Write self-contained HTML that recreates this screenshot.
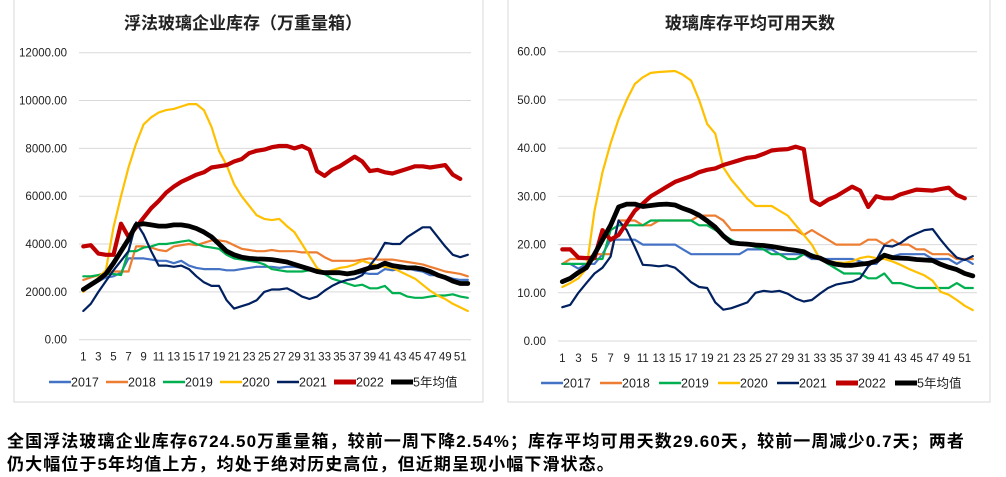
<!DOCTYPE html>
<html><head><meta charset="utf-8">
<style>
body{margin:0;width:1006px;height:477px;background:#fff;overflow:hidden;font-family:"Liberation Sans","Noto Sans CJK SC",sans-serif;}
.note{position:absolute;left:7px;font-size:17px;font-weight:bold;color:#000;font-family:"Liberation Sans","Noto Sans CJK SC",sans-serif;white-space:nowrap;letter-spacing:1.1px}
</style></head>
<body>
<svg id="svg" width="1006" height="477" style="position:absolute;left:0;top:0"></svg>
<div class="note" style="top:427px">全国浮法玻璃企业库存6724.50万重量箱，较前一周下降2.54%；库存平均可用天数29.60天，较前一周减少0.7天；两者</div>
<div class="note" style="top:450px">仍大幅位于5年均值上方，均处于绝对历史高位，但近期呈现小幅下滑状态。</div>
<script>
// Left chart: inventory (万重量箱)
const inv2017=[2100,2250,2450,2600,2650,2800,3400,3400,3400,3350,3300,3300,3200,3300,3100,3000,2950,2950,2950,2900,2900,2950,3000,3050,3050,3050,3000,3050,3050,3000,2950,2900,2800,2750,2750,2750,2750,2800,2750,2750,2950,2900,2950,3000,2900,2850,2700,2700,2650,2550,2500,2500];
const inv2018=[2500,2600,2700,2800,2850,2850,2850,3900,3900,3850,3750,3700,3900,3950,4000,3950,4050,4150,4150,4100,3950,3800,3750,3700,3700,3750,3700,3700,3700,3650,3650,3650,3450,3300,3300,3300,3300,3350,3400,3350,3350,3350,3300,3250,3200,3150,3050,2950,2850,2800,2750,2650];
const inv2019=[2650,2650,2700,2750,2750,2700,3700,3700,3850,3900,4000,4000,4050,4100,4150,4000,3900,3850,3800,3550,3400,3350,3300,3250,3150,2950,2900,2850,2850,2850,2900,2850,2750,2550,2450,2350,2250,2300,2150,2150,2250,1950,1950,1800,1750,1750,1800,1850,1850,1900,1800,1750];
const inv2020=[2000,2300,2600,2900,4700,6000,7200,8200,9000,9300,9500,9600,9650,9750,9850,9850,9600,8900,7900,7300,6500,6000,5600,5200,5050,5000,5050,4750,4500,4000,3500,3000,2800,2900,3000,3050,3150,3300,3200,3100,3050,3000,2850,2700,2550,2300,2050,1850,1700,1500,1350,1200];
const inv2021=[1200,1500,2000,2450,2900,3300,3700,4900,4400,3700,3100,3100,3050,3100,2950,2650,2400,2250,2250,1650,1300,1400,1500,1650,2000,2100,2100,2150,2000,1800,1700,1800,2050,2250,2400,2500,2550,2700,3100,3500,4050,4000,4000,4300,4500,4700,4700,4300,3900,3550,3450,3550];
const inv2022=[3900,3950,3600,3550,3550,4850,4300,4700,5100,5500,5800,6150,6400,6600,6750,6900,7000,7200,7250,7300,7450,7550,7800,7900,7950,8050,8100,8100,8000,8100,7950,7050,6850,7100,7250,7450,7650,7450,7050,7100,7000,6950,7050,7150,7250,7250,7200,7250,7300,6900,6724];
const invAvg=[2100,2300,2500,2750,3200,3700,4200,4800,4850,4800,4750,4750,4800,4800,4750,4650,4500,4300,4000,3700,3550,3450,3400,3380,3370,3350,3300,3250,3150,3050,2950,2850,2800,2800,2800,2750,2800,2900,3000,3050,3200,3100,3050,3000,3000,2950,2850,2700,2600,2450,2350,2350];
const invTicks=[0,2000,4000,6000,8000,10000,12000];
// Right chart: available days
const day2017=[16,16,15,16,16,18,21,21,21,21,20,20,20,20,20,19,18,18,18,18,18,18,18,19,19,19,19,18,18,18,18,17,17,17,17,17,17,16.5,16,16,18,17.5,18,18,18,18,17,17,17,16,17,16];
const day2018=[16,17,17,17,18,18,18,25,25,25,24,24,25,25,25,25,25,26,26,26,25,23,23,23,23,23,23,23,23,23,22,23,22,21,20,20,20,20,21,21,20,21,20,20,19,19,18,18,18,17,17,17];
const day2019=[16,16,16,16,17,17,23,24,24,24,24,25,25,25,25,25,25,24,24,23,22,21,20,20,19.5,19,18,18,17,17,18,18,17,16,15,14,14,14,13,13,14,12,12,11.5,11,11,11,11,11,12,11,11];
const day2020=[11.2,12,13,15,27,35,41,46,50,53.3,54.7,55.6,55.8,55.9,56,55.2,54,50,45,43,36,33.5,31.5,29.5,28,28,28,27,26,24,22,20,17,16.5,16.3,16.2,16.5,17.2,17.5,17.2,17,16.5,15.8,15,14.3,13.6,12.5,10.2,9.6,8.5,7.3,6.4];
const day2021=[7,7.5,10,12,14,15.2,17.5,25,23,19.5,15.8,15.7,15.5,15.7,15.2,13.8,12.2,11.2,11,8,6.5,6.8,7.4,8,10,10.4,10.2,10.4,9.8,8.8,8.2,8.5,9.8,11,11.7,12,12.3,13,15.5,16.8,19.8,19.6,20.3,21.5,22.3,23,23.2,21,19,17.3,16.8,17.6];
const day2022=[19,19,17.3,17.2,17.2,23,21,22,24.5,27,28.5,30,31,32,33,33.6,34.2,35,35.5,35.8,36.5,37,37.5,38,38.2,38.8,39.5,39.7,39.8,40.3,39.8,29.2,28.2,29.3,30,31,32,31.2,27.8,30,29.6,29.6,30.4,30.9,31.4,31.3,31.2,31.5,31.8,30.3,29.6];
const dayAvg=[12.3,13,14.2,15.2,18,21,24,27.8,28.4,28.4,27.9,28.1,28.3,28.4,28.2,27.5,26.9,26.1,24.9,23.6,21.8,20.4,20.2,20.1,19.9,19.8,19.6,19.3,19,18.8,18.5,17.6,17.2,16.4,15.9,15.7,15.7,15.9,16.1,16.6,17.8,17.3,17.2,17.1,16.9,16.8,16.7,15.9,15.3,14.8,14,13.5];
const dayTicks=[0,10,20,30,40,50,60];
const weekLabels=[1,3,5,7,9,11,13,15,17,19,21,23,25,27,29,31,33,35,37,39,41,43,45,47,49,51];
const seriesNames=["2017","2018","2019","2020","2021","2022","5年均值"];

const NS="http://www.w3.org/2000/svg";
const svg=document.getElementById('svg');
function mk(tag,attrs,parent){const e=document.createElementNS(NS,tag);for(const k in attrs)e.setAttribute(k,attrs[k]);(parent||svg).appendChild(e);return e;}
const colors=["#4472C4","#ED7D31","#00B050","#FFC000","#002060","#C00000","#000000"];
const widths=[2.2,2.2,2.2,2.2,2.2,4.2,4.8];

function chart(cfg){
  const g=mk('g',{});
  
  
  const frame=mk('rect',{x:cfg.px,y:-2,width:cfg.pw,height:404,fill:'#fff',stroke:'#d9d9d9','stroke-width':1},g);
  
  
  const t=mk('text',{x:cfg.tx,y:29,'text-anchor':'middle','font-size':17,'font-weight':'bold',fill:'#222','font-family':'"Liberation Sans","Noto Sans CJK SC",sans-serif'},g);
  t.textContent=cfg.title;
  
  
  const ymax=cfg.ticks[cfg.ticks.length-1];
  const yS=v=>cfg.y0-(v/ymax)*(cfg.y0-cfg.yTop);
  const xS=i=>cfg.x1+(i)*cfg.step;
  cfg.ticks.forEach(v=>{
    const ln=mk('line',{x1:cfg.gx0,x2:cfg.gx1,y1:yS(v),y2:yS(v),stroke:'#d9d9d9','stroke-width':1},g);
    
    
    const lb=mk('text',{x:cfg.gx0-12,y:yS(v)+4,'text-anchor':'end','font-size':11.5,fill:'#222'},g);
    lb.textContent=v.toFixed(2);
    
    
  });
  weekLabels.forEach(w=>{
    const lb=mk('text',{x:xS(w-1),y:cfg.y0+21,'text-anchor':'middle','font-size':11.5,fill:'#222'},g);
    lb.textContent=w;
    
    
  });
  cfg.data.forEach((arr,s)=>{
    const d=arr.map((v,i)=>(i?'L':'M')+xS(i).toFixed(1)+','+yS(v).toFixed(1)).join(' ');
    const p=mk('path',{d:d,fill:'none',stroke:colors[s],'stroke-width':widths[s],'stroke-linejoin':'round','stroke-linecap':'round'},g);
    
    
  });
  let lx=cfg.lx;
  seriesNames.forEach((n,s)=>{
    const ln=mk('line',{x1:lx,x2:lx+22,y1:cfg.ly,y2:cfg.ly,stroke:colors[s],'stroke-width':s>=5?5:2.5},g);
    
    
    const tx=mk('text',{x:lx+22,y:cfg.ly+4.5,'font-size':12.5,fill:'#222','font-family':'"Liberation Sans","Noto Sans CJK SC",sans-serif'},g);
    tx.textContent=n;
    
    
    lx+=cfg.lstep;
  });
}
chart({name:'inventory-chart',title:'浮法玻璃企业库存（万重量箱）',px:14,pw:469,tx:243,ticks:invTicks,y0:339.7,yTop:52.7,x1:83.3,step:7.54,gx0:79,gx1:471,
  data:[inv2017,inv2018,inv2019,inv2020,inv2021,inv2022,invAvg],lx:49,ly:382,lstep:57});
chart({name:'days-chart',title:'玻璃库存平均可用天数',px:508,pw:482,tx:750,ticks:dayTicks,y0:341,yTop:51.7,x1:562.3,step:8.05,gx0:558,gx1:977,
  data:[day2017,day2018,day2019,day2020,day2021,day2022,dayAvg],lx:541,ly:383,lstep:59});
</script>
</body></html>
